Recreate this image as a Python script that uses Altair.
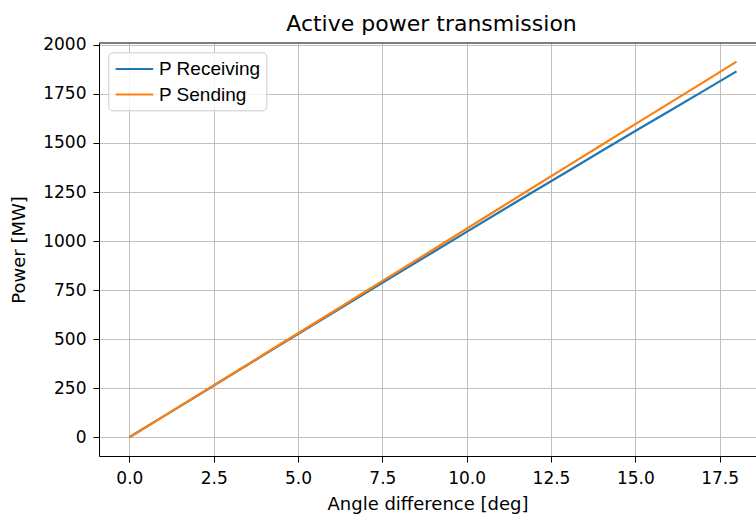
import altair as alt
import pandas as pd

# Transmitted active power versus load angle
angle_deg = list(range(0, 19))
p_receiving = [0, 105, 210, 316, 421, 526, 630, 735, 839, 943, 1047,
               1151, 1254, 1356, 1459, 1561, 1662, 1763, 1865]
p_sending = [0, 105, 211, 317, 424, 530, 636, 743, 849, 956, 1063,
             1170, 1277, 1383, 1490, 1596, 1702, 1808, 1915]

series_names = ["P Receiving", "P Sending"]
series_colors = ["#1f77b4", "#ff7f0e"]

x_ticks = [0, 2.5, 5, 7.5, 10, 12.5, 15, 17.5]
y_ticks = list(range(0, 2001, 250))

W, H = 657, 413

df = pd.DataFrame({
    "angle": angle_deg + angle_deg,
    "power": p_receiving + p_sending,
    "series": [series_names[0]] * len(angle_deg) + [series_names[1]] * len(angle_deg),
})

lines = alt.Chart(df).mark_line(strokeWidth=2.2, clip=True).encode(
    x=alt.X(
        "angle:Q",
        scale=alt.Scale(domain=[-0.9, 18.578], nice=False, zero=False),
        axis=alt.Axis(values=x_ticks, format=".1f", title="Angle difference [deg]",
                      titleY=53, titleBaseline="alphabetic", labelPadding=8,
                      labelFlush=False),
    ),
    y=alt.Y(
        "power:Q",
        scale=alt.Scale(domain=[-95.7, 2009.7], nice=False, zero=False),
        axis=alt.Axis(values=y_ticks, format="d", title="Power [MW]",
                      titleX=-74.5, titleY=H / 2, titleBaseline="alphabetic",
                      labelPadding=7),
    ),
    color=alt.Color(
        "series:N",
        scale=alt.Scale(domain=series_names, range=series_colors),
        legend=alt.Legend(
            title=None, orient="none", legendX=9.3, legendY=9.3,
            fillColor="rgba(255,255,255,0.8)", strokeColor="#cccccc",
            cornerRadius=4, padding=5.7,
            symbolType="M-1,0H3", symbolSize=355, symbolStrokeWidth=2.2,
            labelFont="Liberation Sans", labelFontSize=19, labelColor="black",
            labelOffset=23, rowPadding=4.5,
        ),
    ),
)

# upper frame edge
top_spine = alt.Chart(pd.DataFrame({"edge": [0]})).mark_rule(
    color="black", strokeWidth=1
).encode(x=alt.value(0), x2=alt.value(W), y=alt.value(0))

chart = alt.layer(lines, top_spine).properties(
    width=W,
    height=H,
    autosize=alt.AutoSizeParams(type="none"),
    padding={"left": 99, "top": 43, "right": 0, "bottom": 58},
    title=alt.TitleParams(
        "Active power transmission", font="DejaVu Sans", fontSize=22,
        fontWeight="normal", color="black", offset=11, baseline="alphabetic",
        frame="group", dx=4, dy=28,
    ),
).configure_view(stroke=None).configure_axis(
    domainColor="black", domainWidth=1, tickColor="black", tickSize=6, tickWidth=1,
    labelColor="black", titleColor="black",
    labelFont="DejaVu Sans", titleFont="DejaVu Sans",
    labelFontSize=17, titleFontSize=18, titleFontWeight="normal",
    gridColor="#c0c0c0", gridWidth=1,
)

chart.save("out.html", embed_options={"renderer": "svg", "actions": False})
